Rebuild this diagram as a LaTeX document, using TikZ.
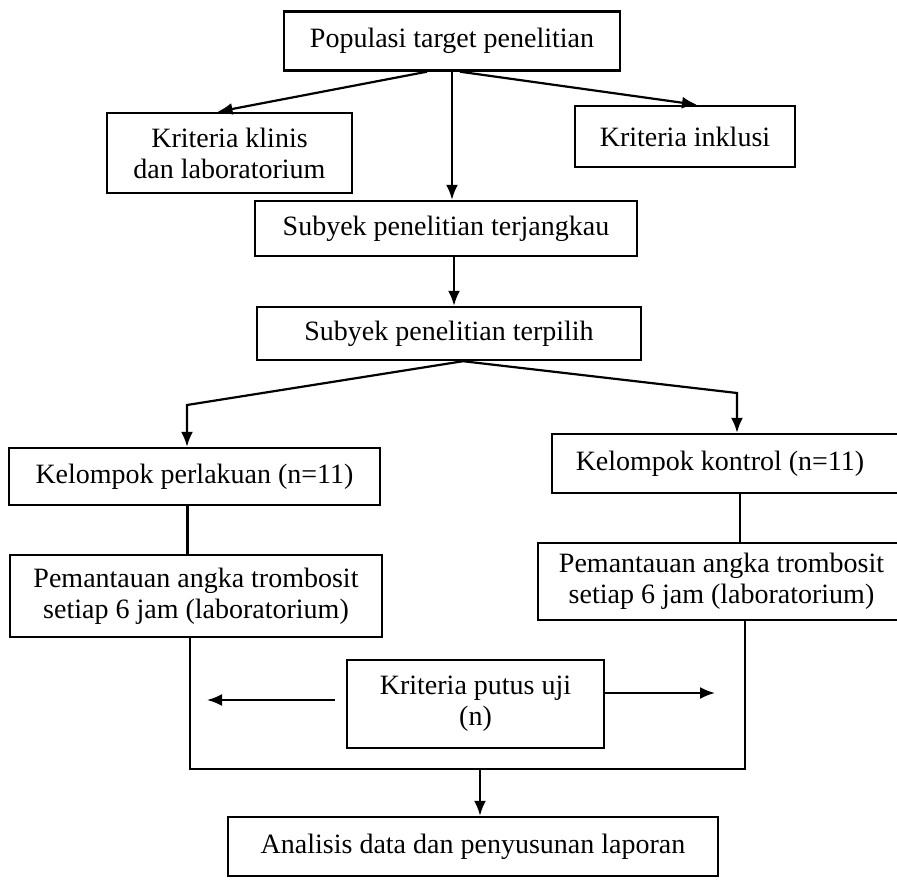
\documentclass[tikz,border=0pt]{standalone}
\usepackage{fontspec}
\setmainfont{Liberation Serif}
\usetikzlibrary{arrows.meta}
\begin{document}
\begin{tikzpicture}[x=1pt,y=-1pt,
  box/.style={draw, line width=2.4pt, inner sep=0pt, align=center,
    font=\fontsize{28}{31}\selectfont},
  conn/.style={line width=2.2pt},
  arr/.style={conn, -{Latex[length=15pt,width=12pt]}}]
\path[use as bounding box, clip] (0,0) rectangle (897,880);
\fill[white] (0,0) rectangle (897,880);
% boxes
\node[box, minimum width=336pt, minimum height=59pt] (pop) at (452,41) {Populasi target penelitian};
\node[box, minimum width=245pt, minimum height=80pt] (klin) at (229.5,153) {Kriteria klinis\\dan laboratorium};
\node[box, minimum width=220pt, minimum height=61pt] (inkl) at (685,136.5) {Kriteria inklusi};
\node[box, minimum width=382pt, minimum height=55pt] (jang) at (446,228.5) {Subyek penelitian terjangkau};
\node[box, minimum width=384pt, minimum height=53pt] (pil) at (449,333.5) {Subyek penelitian terpilih};
\node[box, minimum width=371pt, minimum height=57pt] (perl) at (194.5,476.5) {Kelompok perlakuan (n=11)};
\node[box, minimum width=353pt, minimum height=59pt] (kont) at (728.5,463.5) {Kelompok kontrol (n=11)\hspace*{17pt}};
\node[box, minimum width=372pt, minimum height=82pt] (pemL) at (196,596) {Pemantauan angka trombosit\\setiap 6 jam (laboratorium)};
\node[box, minimum width=367pt, minimum height=77pt] (pemR) at (721.5,581.5) {Pemantauan angka trombosit\\setiap 6 jam (laboratorium)};
\node[box, minimum width=257pt, minimum height=88pt] (put) at (475.5,704) {Kriteria putus uji\\(n)};
\node[box, minimum width=490pt, minimum height=59pt] (anal) at (473,846.5) {Analisis data dan penyusunan laporan};
% top connectors
\draw[arr] ([xshift=-25pt]pop.south) -- ([xshift=-12pt]klin.north);
\draw[arr] ([xshift=8pt]pop.south) -- ([xshift=12pt]inkl.north);
\draw[arr] (pop.south) -- (pop.south |- jang.north);
\draw[arr] ([xshift=8pt]jang.south) -- ([xshift=8pt]jang.south |- pil.north);
% branches
\coordinate (apex) at ([xshift=14pt]pil.south);
\coordinate (bl) at (187,405);
\coordinate (br) at (737,393);
\draw[arr] (apex) -- (bl) -- (bl |- perl.north);
\draw[arr] (apex) -- (br) -- (br |- kont.north);
% group to monitoring
\draw[conn] ([xshift=-7pt]perl.south) -- ([xshift=-7pt]perl.south |- pemL.north);
\draw[conn] ([xshift=11.5pt]kont.south) -- ([xshift=11.5pt]kont.south |- pemR.north);
% bracket
\coordinate (ubot) at (480,769);
\draw[conn] ([xshift=-6pt]pemL.south) |- (ubot) -| ([xshift=23.5pt]pemR.south);
\draw[arr] (ubot) -- (ubot |- anal.north);
% drop-out arrows
\coordinate (la) at (207,700);
\coordinate (ra) at (715,693);
\draw[arr] ([xshift=-11pt]put.west |- la) -- (la);
\draw[arr] (put.east |- ra) -- (ra);
\end{tikzpicture}
\end{document}
